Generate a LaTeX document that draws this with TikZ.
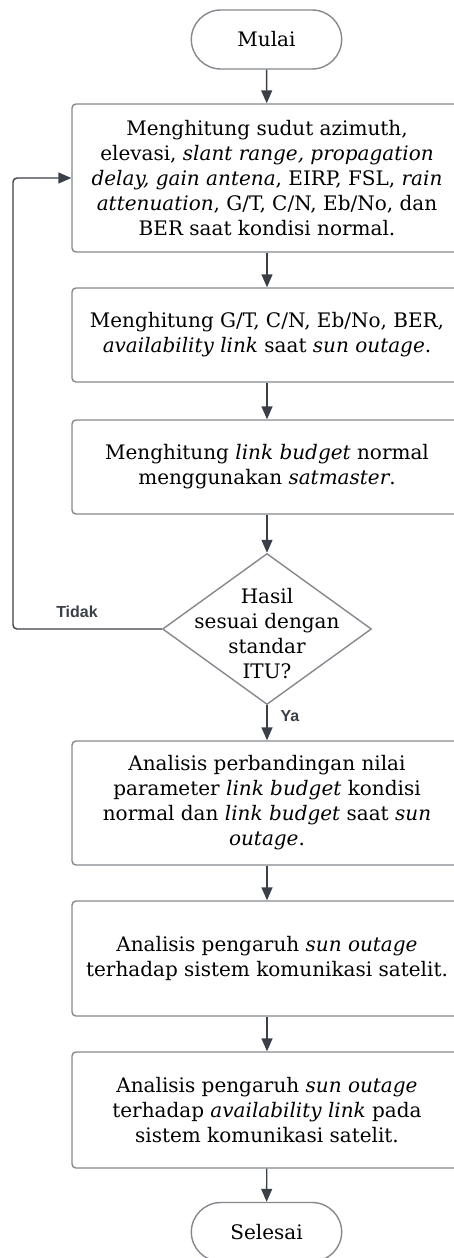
\documentclass[tikz,border=0pt]{standalone}
\usepackage{fontspec}
\setmainfont{DejaVu Serif}
\newfontfamily\labelfont{Liberation Sans}
\usetikzlibrary{shapes}
\usetikzlibrary{positioning}
\usetikzlibrary{arrows.meta}
\definecolor{garis}{HTML}{3A4048}
\definecolor{tepi}{HTML}{85898E}
\tikzset{
    prosesbox/.style = {rectangle, rounded corners=4pt, line width=1.4pt, draw=tepi, align=center, fill=white, minimum width=390pt, font=\fontsize{20}{25}\selectfont, text=black},
    terminal/.style = {rounded rectangle, line width=1.4pt, draw=tepi, align=center, fill=white, minimum width=157pt, minimum height=59pt, font=\fontsize{20}{25}\selectfont, text=black},
    keputusan/.style = {diamond, line width=1.4pt, draw=tepi, fill=white, minimum width=209pt, minimum height=151pt, inner sep=0pt},
    teksnode/.style = {align=center, font=\fontsize{20}{25}\selectfont, text=black},
    labelnode/.style = {font=\labelfont\bfseries\fontsize{16}{18}\selectfont, text=garis},
    edgen/.style = {line width=1.4pt, garis, -{Triangle[width=11pt,length=13pt]}},
    edgeb/.style = {line width=1.4pt, garis, rounded corners=4pt, -{Triangle[width=11pt,length=13pt]}}, % balik
}

\begin{document}
\begin{tikzpicture}[x=1pt,y=-1pt]
\path[use as bounding box] (0,0) rectangle (453,1258);
\node[terminal] at (266.5, 39.5) (mulai) {Mulai};
\node[prosesbox, minimum height=148pt] at (267, 178) (hitungnormal) {Menghitung sudut azimuth,\\ elevasi, \textit{slant range, propagation}\\ \textit{delay, gain antena}, EIRP, FSL, \textit{rain}\\ \textit{attenuation}, G/T, C/N, Eb/No, dan\\ BER saat kondisi normal.};
\node[prosesbox, minimum height=94pt] at (267, 335) (hitungoutage) {Menghitung G/T, C/N, Eb/No, BER,\\ \textit{availability link} saat \textit{sun outage}.};
\node[prosesbox, minimum height=94pt] at (267, 467) (satmaster) {Menghitung \textit{link budget} normal\\ menggunakan \textit{satmaster}.};
\node[keputusan] at (267, 629) (cek) {};
\node[teksnode] at (267, 634) (cekteks) {Hasil\\ sesuai dengan\\ standar\\ ITU?};
\node[prosesbox, minimum height=124pt] at (267, 803) (banding) {Analisis perbandingan nilai\\ parameter \textit{link budget} kondisi\\ normal dan \textit{link budget} saat \textit{sun}\\ \textit{outage}.};
\node[prosesbox, minimum height=115pt] at (267, 958.5) (pengaruh) {Analisis pengaruh \textit{sun outage}\\ terhadap sistem komunikasi satelit.};
\node[prosesbox, minimum height=116pt] at (267, 1110) (availability) {Analisis pengaruh \textit{sun outage}\\ terhadap \textit{availability link} pada\\ sistem komunikasi satelit.};
\node[terminal] at (266.5, 1232) (selesai) {Selesai};
%
\node[labelnode] at (77, 612) (tidak) {Tidak};
\node[labelnode] at (290, 716) (ya) {Ya};
%
\draw[edgen] (mulai) -- (hitungnormal);
\draw[edgen] (hitungnormal) -- (hitungoutage);
\draw[edgen] (hitungoutage) -- (satmaster);
\draw[edgen] (satmaster) -- (cek);
\draw[edgen] (cek) -- (banding);
\draw[edgen] (banding) -- (pengaruh);
\draw[edgen] (pengaruh) -- (availability);
\draw[edgen] (availability) -- (selesai);
\draw[edgeb] (cek.west) -- (13, 629) |- (hitungnormal.west);
\end{tikzpicture}
\end{document}
